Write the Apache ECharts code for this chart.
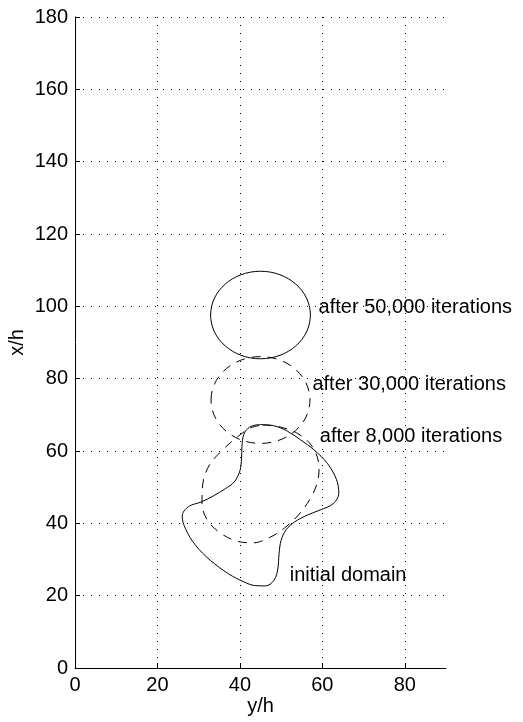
<!DOCTYPE html>
<html>
<head>
<meta charset="utf-8">
<script src="https://cdn.jsdelivr.net/npm/echarts/dist/echarts.min.js"></script>
<style>
  html, body { margin: 0; padding: 0; background: #fff; }
  #chart { width: 523px; height: 722px; }
</style>
</head>
<body>
<div id="chart"></div>
<script>
// Axis ticks
const xTicks = [0, 20, 40, 60, 80];
const yTicks = [0, 20, 40, 60, 80, 100, 120, 140, 160, 180];

// Domain outlines, [y/h, x/h]
const initialDomain = [
  [45.0, 67.3], [48.2, 67.0], [51.5, 65.5], [54.7, 63.1], [58.0, 60.3], [61.2, 56.6],
  [63.4, 52.2], [64.0, 48.3], [62.6, 45.4], [59.5, 43.7], [56.4, 42.3], [53.3, 40.4],
  [51.2, 38.2], [50.0, 35.3], [49.5, 31.6], [49.2, 27.4], [48.3, 24.3], [46.2, 22.7],
  [43.6, 22.8], [41.0, 23.8], [37.3, 26.0], [32.8, 29.8], [29.2, 34.0], [26.8, 38.5],
  [26.0, 42.0], [27.5, 44.6], [30.6, 45.9], [33.6, 47.6], [36.5, 49.6], [38.6, 51.4],
  [40.0, 54.5], [40.4, 58.0], [40.5, 61.2], [40.9, 64.4], [42.0, 66.3], [43.5, 67.1],
  [45.0, 67.3]
];

const after8000 = [
  [45.5, 67.2], [49.9, 66.6], [53.8, 65.0], [56.9, 62.2], [58.7, 58.6], [59.2, 54.7],
  [58.6, 50.6], [56.9, 46.5], [54.2, 42.3], [50.8, 38.7], [46.9, 35.9], [43.1, 34.6],
  [39.2, 35.1], [35.3, 37.3], [32.1, 40.9], [30.8, 45.6], [31.0, 50.9], [32.6, 56.1],
  [35.8, 60.3], [39.4, 63.9], [42.6, 66.4], [45.5, 67.2]
];

// Near-circular domains: [centre y/h, centre x/h, radius]
const after30000 = [[45.0, 74.1, 12.0]];
const after50000 = [[45.0, 97.6, 12.1]];

// Curve captions: [y/h, x/h] anchor of the text's left edge
const captionText = ['after 50,000 iterations', 'after 30,000 iterations', 'after 8,000 iterations', 'initial domain'];
const captionAnchor = [[59.1, 99.8], [57.6, 78.4], [59.4, 63.9], [52.1, 25.7]];

const FONT = '"Liberation Sans", Arial, Helvetica, sans-serif';
const FS = 20;
const DASH = [9, 7];

function circleSeries(data, dashed) {
  return {
    type: 'custom',
    data: data,
    silent: true,
    renderItem: function (params, api) {
      const c = api.coord([api.value(0), api.value(1)]);
      const s = api.size([api.value(2), api.value(2)]);
      return {
        type: 'ellipse',
        shape: { cx: c[0], cy: c[1], rx: s[0], ry: s[1] },
        style: { fill: null, stroke: '#000', lineWidth: 1, lineDash: dashed ? DASH : null }
      };
    }
  };
}

const chart = echarts.init(document.getElementById('chart'), null, { renderer: 'canvas' });

chart.setOption({
  animation: false,
  backgroundColor: '#fff',
  grid: { left: 75, right: 77, top: 17, bottom: 54, containLabel: false, outerBoundsMode: 'none' },
  xAxis: {
    type: 'value', min: 0, max: 90, interval: 20,
    name: 'y/h', nameLocation: 'middle', nameGap: 28, nameMoveOverlap: false,
    nameTextStyle: { color: '#000', fontFamily: FONT, fontSize: FS },
    axisLine: { show: true, onZero: false, lineStyle: { color: '#000', width: 1 } },
    axisTick: { show: true, inside: true, length: 5, customValues: xTicks, lineStyle: { color: '#000' } },
    axisLabel: { show: true, margin: 7, color: '#000', fontFamily: FONT, fontSize: FS, customValues: xTicks },
    splitLine: { show: true, lineStyle: { color: '#000', width: 1, type: [1, 7] } }
  },
  yAxis: {
    type: 'value', min: 0, max: 180, interval: 20,
    name: 'x/h', nameLocation: 'middle', nameGap: 48, nameMoveOverlap: false,
    nameTextStyle: { color: '#000', fontFamily: FONT, fontSize: FS },
    axisLine: { show: true, onZero: false, lineStyle: { color: '#000', width: 1 } },
    axisTick: { show: true, inside: true, length: 5, customValues: yTicks, lineStyle: { color: '#000' } },
    axisLabel: { show: true, margin: 7, color: '#000', fontFamily: FONT, fontSize: FS, customValues: yTicks },
    splitLine: { show: true, lineStyle: { color: '#000', width: 1, type: [1, 7] } }
  },
  series: [
    {
      type: 'line', data: initialDomain, smooth: 0.35, symbol: 'none', silent: true,
      lineStyle: { color: '#000', width: 1 }
    },
    {
      type: 'line', data: after8000, smooth: 0.35, symbol: 'none', silent: true,
      lineStyle: { color: '#000', width: 1, type: DASH }
    },
    circleSeries(after30000, true),
    circleSeries(after50000, false),
    {
      type: 'scatter', symbolSize: 0, silent: true,
      itemStyle: { opacity: 1, color: '#000' },
      data: captionAnchor.map(function (p, i) { return { name: captionText[i], value: p }; }),
      label: {
        show: true, position: 'right', distance: 0, opacity: 1,
        formatter: function (p) { return p.name; },
        color: '#000', fontFamily: FONT, fontSize: FS
      }
    }
  ]
});
</script>
</body>
</html>
